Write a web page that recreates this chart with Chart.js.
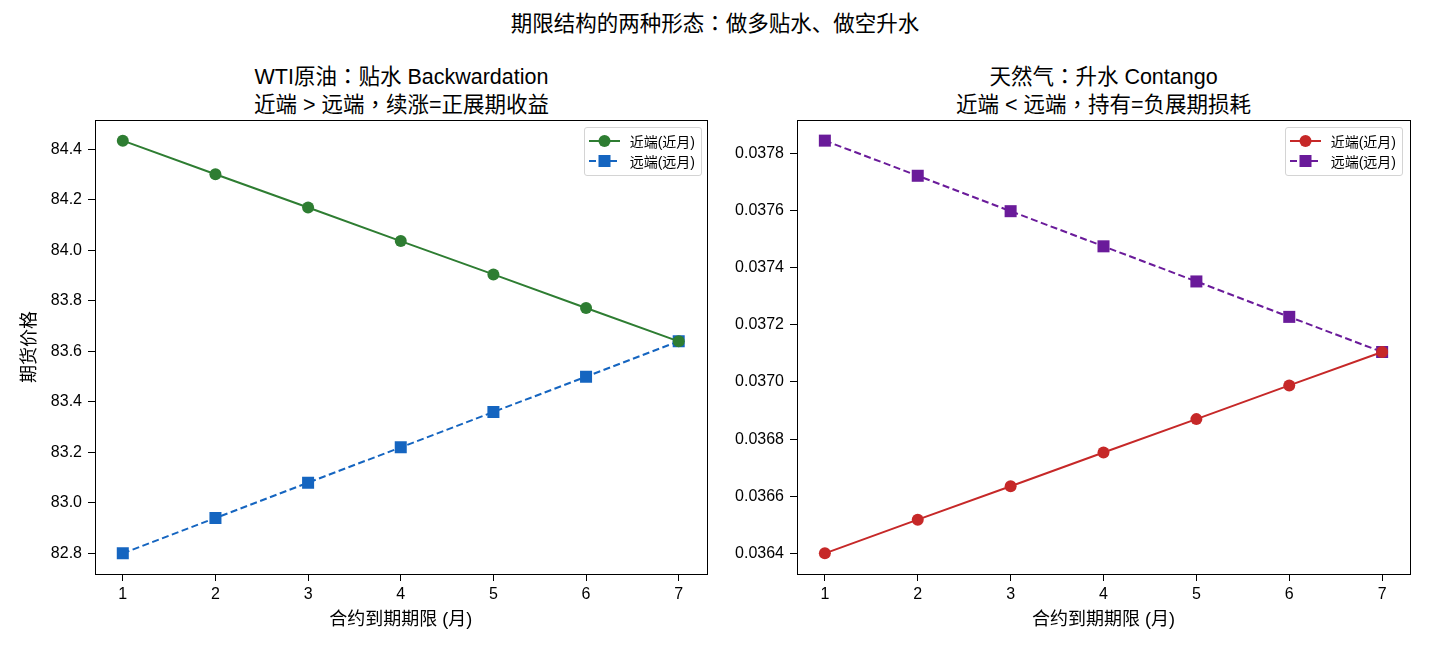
<!DOCTYPE html>
<html>
<head>
<meta charset="utf-8">
<script src="https://cdn.jsdelivr.net/npm/chart.js@4/dist/chart.umd.min.js"></script>
<style>
    body { margin: 0; background: #fff; font-family: "Liberation Sans", "Noto Sans CJK SC", sans-serif; color: #000; }
    #wrap { position: relative; width: 1430px; height: 650px; overflow: hidden; }
    canvas { position: absolute; top: 0; }
    .title { position: absolute; text-align: center; font-size: 21.5px; line-height: 26px; white-space: nowrap; }
    .p { font-family: "Noto Sans CJK TC", sans-serif; }
    .legend { position: absolute; background: rgba(255,255,255,0.85); border: 1px solid #d4d4d4; border-radius: 3px;
              padding: 3px 6px 4px 4px; font-size: 14px; }
    .legend-row { display: flex; align-items: center; height: 20px; }
    .legend-row svg { margin-right: 10px; }
</style>
</head>
<body>
<div id="wrap">
    <div class="title" style="left:0; width:1430px; top:9px;">期限结构的两种形态<span class="p">：</span>做多贴水、做空升水</div>
    <div class="title" style="left:95px; width:613px; top:62px;">WTI原油<span class="p">：</span>贴水 Backwardation<br>近端 &gt; 远端<span class="p">，</span>续涨=正展期收益</div>
    <div class="title" style="left:797px; width:613px; top:62px;">天然气<span class="p">：</span>升水 Contango<br>近端 &lt; 远端<span class="p">，</span>持有=负展期损耗</div>
    <canvas id="wtiChart" width="715" height="650" style="left:0"></canvas>
    <canvas id="ngChart" width="715" height="650" style="left:715px"></canvas>
    <div class="legend" id="wtiLegend" style="right:728px; top:127px;"></div>
    <div class="legend" id="ngLegend" style="right:27px; top:127px;"></div>
</div>
<script>
// 数据
const months = [1, 2, 3, 4, 5, 6, 7];
const wtiNear = [84.435, 84.302, 84.170, 84.037, 83.905, 83.772, 83.640];
const wtiFar = [82.800, 82.940, 83.080, 83.220, 83.360, 83.500, 83.640];
const ngNear = [0.036400, 0.036518, 0.036635, 0.036753, 0.036870, 0.036988, 0.037105];
const ngFar = [0.037845, 0.037722, 0.037598, 0.037475, 0.037352, 0.037228, 0.037105];
const wtiTicks = [82.8, 83.0, 83.2, 83.4, 83.6, 83.8, 84.0, 84.2, 84.4];
const ngTicks = [0.0364, 0.0366, 0.0368, 0.0370, 0.0372, 0.0374, 0.0376, 0.0378];
const nearLabel = '近端(近月)';
const farLabel = '远端(远月)';

const FONT = '"Liberation Sans", "Noto Sans CJK SC", sans-serif';

// 坐标轴外框
const framePlugin = {
    id: 'frame',
    afterDraw(chart) {
        const a = chart.chartArea;
        const ctx = chart.ctx;
        ctx.save();
        ctx.strokeStyle = '#000';
        ctx.lineWidth = 1;
        ctx.strokeRect(Math.round(a.left) + 0.5, Math.round(a.top) + 0.5,
            Math.round(a.right - a.left), Math.round(a.bottom - a.top));
        ctx.restore();
    }
};

function toPoints(ys) {
    return months.map((m, i) => ({ x: m, y: ys[i] }));
}

function makeChart(id, near, far, nearColor, farColor, yTicks, decimals, yTitle, yWidth, padRight) {
    const all = near.concat(far);
    const lo = Math.min(...all), hi = Math.max(...all);
    const m = (hi - lo) * 0.05;

    return new Chart(document.getElementById(id), {
        type: 'line',
        data: {
            datasets: [{
                label: nearLabel,
                data: toPoints(near),
                borderColor: nearColor,
                backgroundColor: nearColor,
                borderWidth: 2,
                pointStyle: 'circle',
                pointRadius: 6,
                pointBorderWidth: 0,
                tension: 0
            }, {
                label: farLabel,
                data: toPoints(far),
                borderColor: farColor,
                backgroundColor: farColor,
                borderWidth: 2,
                borderDash: [7, 3.5],
                pointStyle: 'rect',
                pointRadius: 8.5,
                pointBorderWidth: 0,
                tension: 0
            }]
        },
        options: {
            responsive: false,
            animation: false,
            layout: { padding: { top: 120, right: padRight, left: 0, bottom: 0 } },
            plugins: { legend: { display: false }, tooltip: { enabled: false } },
            scales: {
                x: {
                    type: 'linear',
                    min: 0.7,
                    max: 7.3,
                    afterBuildTicks: s => { s.ticks = months.map(v => ({ value: v })); },
                    afterFit: s => { s.height = 76; },
                    grid: { drawOnChartArea: false, drawTicks: true, tickLength: 7, color: '#000' },
                    border: { display: false },
                    ticks: { color: '#000', padding: 4, font: { family: FONT, size: 16 }, maxRotation: 0 },
                    title: { display: true, text: '合约到期期限 (月)', color: '#000',
                        font: { family: FONT, size: 18 }, padding: { top: 0, bottom: 19 } }
                },
                y: {
                    min: lo - m,
                    max: hi + m,
                    afterBuildTicks: s => { s.ticks = yTicks.map(v => ({ value: v })); },
                    afterFit: s => { s.width = yWidth; },
                    grid: { drawOnChartArea: false, drawTicks: true, tickLength: 7, color: '#000' },
                    border: { display: false },
                    ticks: { color: '#000', padding: 6, font: { family: FONT, size: 16 },
                        callback: v => Number(v).toFixed(decimals) },
                    title: { display: !!yTitle, text: yTitle, color: '#000',
                        font: { family: FONT, size: 18 }, padding: { top: 19, bottom: 0 } }
                }
            }
        },
        plugins: [framePlugin]
    });
}

function renderLegend(id, nearColor, farColor) {
    const row = (color, marker, dash, text) => `
        <div class="legend-row">
            <svg width="31" height="14">
                <line x1="0" y1="7" x2="31" y2="7" stroke="${color}" stroke-width="2" ${dash ? 'stroke-dasharray="7 3.5"' : ''}/>
                ${marker === 'circle'
                    ? `<circle cx="15.5" cy="7" r="6" fill="${color}"/>`
                    : `<rect x="9.5" y="1" width="12" height="12" fill="${color}"/>`}
            </svg>
            <span>${text}</span>
        </div>`;
    document.getElementById(id).innerHTML =
        row(nearColor, 'circle', false, nearLabel) + row(farColor, 'rect', true, farLabel);
}

document.addEventListener('DOMContentLoaded', () => {
    makeChart('wtiChart', wtiNear, wtiFar, '#2e7d32', '#1565c0', wtiTicks, 1, '期货价格', 95, 7);
    makeChart('ngChart', ngNear, ngFar, '#c62828', '#6a1b9a', ngTicks, 4, '', 82, 20);
    renderLegend('wtiLegend', '#2e7d32', '#1565c0');
    renderLegend('ngLegend', '#c62828', '#6a1b9a');
});
</script>
</body>
</html>
